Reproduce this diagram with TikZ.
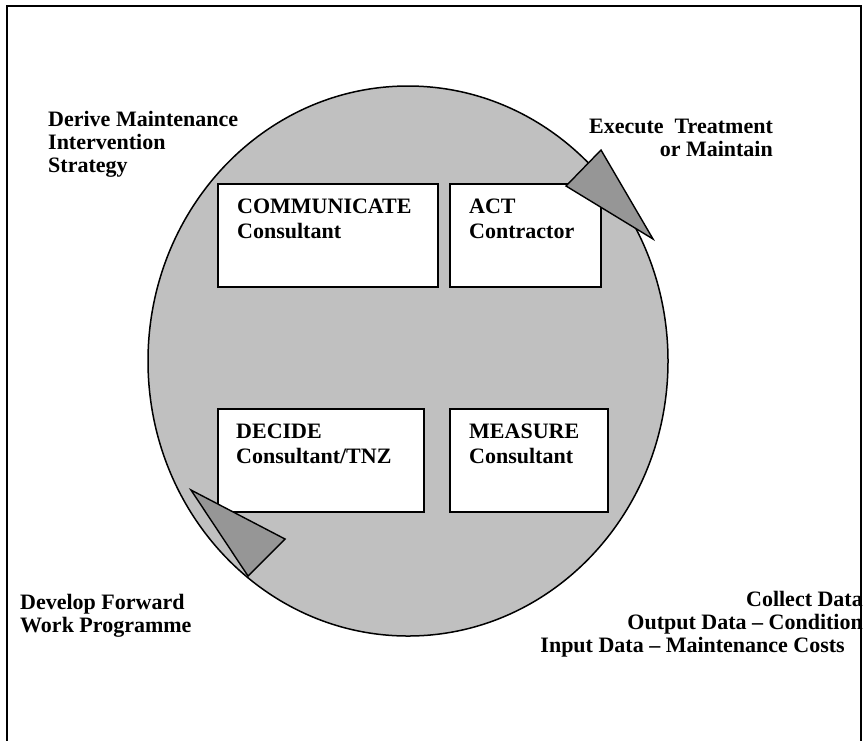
\documentclass[tikz,border=0pt]{standalone}
\usepackage{fontspec}
\setmainfont{Liberation Serif}
\usetikzlibrary{shapes.geometric}
\definecolor{cyclegrey}{RGB}{192,192,192}
\definecolor{wedgegrey}{RGB}{150,150,150}
\begin{document}
\begin{tikzpicture}[x=1pt,y=-1pt,
  lbl/.style={font=\fontsize{22}{24}\selectfont\bfseries, inner sep=0pt},
  boxnode/.style={draw=black, line width=1.5pt, fill=white, inner sep=0pt, anchor=north west, minimum height=103pt},
  wedge/.style={draw=black, line width=1.4pt, fill=wedgegrey, line join=miter}]
\useasboundingbox (0,0) rectangle (866,740);
% cycle disc
\node[draw=black, line width=1.5pt, fill=cyclegrey, ellipse, minimum width=520pt, minimum height=550pt, inner sep=0pt] (cyc) at (408,361) {};
% boxes
\node[boxnode, minimum width=220pt] (comm) at (217,183) {};
\node[boxnode, minimum width=151pt] (act) at (449,183) {};
\node[boxnode, minimum width=206pt] (decide) at (217,408) {};
\node[boxnode, minimum width=158pt] (measure) at (449,408) {};
% box texts
\node[lbl, anchor=base west] (comm1) at (237,213) {COMMUNICATE};
\node[lbl, anchor=base west] (comm2) at (237,238) {Consultant};
\node[lbl, anchor=base west] (act1) at (469,213) {ACT};
\node[lbl, anchor=base west] (act2) at (469,238) {Contractor};
\node[lbl, anchor=base west] (dec1) at (236,438) {DECIDE};
\node[lbl, anchor=base west] (dec2) at (236,463) {Consultant/TNZ};
\node[lbl, anchor=base west] (mea1) at (469,438) {MEASURE};
\node[lbl, anchor=base west] (mea2) at (469,463) {Consultant};
% wedges (arrow heads of the cycle)
\coordinate (w1a) at (601,150);
\coordinate (w1b) at (566,186);
\coordinate (w1c) at (653,239);
\draw[wedge] (w1a) -- (w1b) -- (w1c) -- cycle;
\coordinate (w2a) at (191,490);
\coordinate (w2b) at (285,539);
\coordinate (w2c) at (248,576);
\draw[wedge] (w2a) -- (w2b) -- (w2c) -- cycle;
% outer labels
\node[lbl, anchor=base west] (der1) at (48,126) {Derive Maintenance};
\node[lbl, anchor=base west] (der2) at (48,149) {Intervention};
\node[lbl, anchor=base west] (der3) at (48,172) {Strategy};
\node[lbl, anchor=base east] (exe1) at (773,133) {Execute\ \ Treatment};
\node[lbl, anchor=base east] (exe2) at (773,156) {or Maintain};
\node[lbl, anchor=base west] (dev1) at (20,609) {Develop Forward};
\node[lbl, anchor=base west] (dev2) at (20,632) {Work Programme};
\node[lbl, anchor=base east] (col1) at (863,606) {Collect Data};
\node[lbl, anchor=base east] (col2) at (863,629) {Output Data -- Condition};
\node[lbl, anchor=base east] (col3) at (845,652) {Input Data -- Maintenance Costs};
% frame
\draw[line width=2.5pt, line cap=rect] (7,745) -- (7,6) -- (861,6) -- (861,745);
\end{tikzpicture}
\end{document}
